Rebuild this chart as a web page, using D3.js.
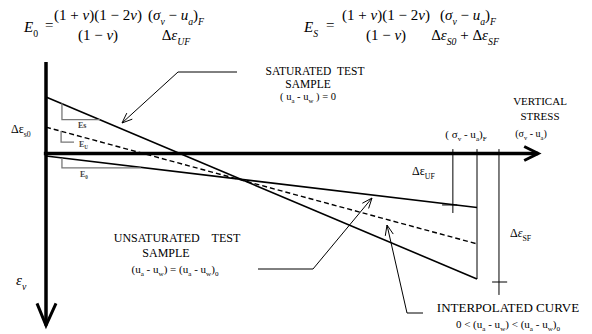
<!DOCTYPE html>
<html>
<head>
<meta charset="utf-8">
<script src="https://cdn.jsdelivr.net/npm/d3@7"></script>
<style>
  body { margin: 0; background: #fff; }
  svg text { font-family: "Liberation Serif", "Times New Roman", Times, serif; white-space: pre; }
</style>
</head>
<body>
<div id="chart"></div>
<script>
// stress normalised so that (sigma_v - u_a)_F = 1, strain normalised to the saturated end strain
var stressEnds = [0, 1];
var saturatedStrain = [-0.45, 1.0];
var interpolatedStrain = [-0.21, 0.72];
var unsaturatedStrain = [0.02, 0.43];

var stressAxisExtent = [-0.005, 1.142];
var strainAxisExtent = [-0.73, 1.37];

// vertical reference lines near the end of loading
var markStress = [0.944, 1.0, 1.051];
var markEnd = [0.474, 1.0, 1.127];
var markTop = -0.035;

// slope triangles [x0, yTop, yBottom, x1]
var slopeTriangles = [
    {name: "Es", pts: [0.037, -0.40, -0.27, 0.125]},
    {name: "Eu", pts: [0.035, -0.18, -0.09, 0.065]},
    {name: "E0", pts: [0.037, 0.035, 0.115, 0.22]}
];

var W = 592, H = 334;

var svg = d3.select("#chart").append("svg")
    .attr("width", W)
    .attr("height", H);

var x = d3.scaleLinear().domain([0, 1]).range([46, 477]);
var y = d3.scaleLinear().domain([0, 1]).range([153.5, 279]);

var line = d3.line()
    .x(function(d) { return x(d[0]); })
    .y(function(d) { return y(d[1]); });

function pairs(strain) {
    return stressEnds.map(function(s, i) { return [s, strain[i]]; });
}

// ---------- the three curves ----------
svg.append("path").attr("d", line(pairs(saturatedStrain)))
    .attr("fill", "none").attr("stroke", "#000").attr("stroke-width", 1.6);
svg.append("path").attr("d", line(pairs(interpolatedStrain)))
    .attr("fill", "none").attr("stroke", "#000").attr("stroke-width", 1.4)
    .attr("stroke-dasharray", "5,3");
svg.append("path").attr("d", line(pairs(unsaturatedStrain)))
    .attr("fill", "none").attr("stroke", "#000").attr("stroke-width", 1.6);

// ---------- vertical marks ----------
svg.selectAll(".mark").data(markStress).enter().append("line")
    .attr("class", "mark")
    .attr("x1", function(d) { return x(d); })
    .attr("x2", function(d) { return x(d); })
    .attr("y1", y(markTop))
    .attr("y2", function(d, i) { return y(markEnd[i]); })
    .attr("stroke", "#000").attr("stroke-width", 1);

// little horizontal ticks
var ticks = [[0.919, 0.954, 0.41], [1.035, 1.07, 1.024]];
svg.selectAll(".tick").data(ticks).enter().append("line")
    .attr("x1", function(d) { return x(d[0]); })
    .attr("x2", function(d) { return x(d[1]); })
    .attr("y1", function(d) { return y(d[2]); })
    .attr("y2", function(d) { return y(d[2]); })
    .attr("stroke", "#000").attr("stroke-width", 1);

// ---------- slope triangles ----------
slopeTriangles.forEach(function(t) {
    var p = t.pts;
    svg.append("path")
        .attr("d", line([[p[0], p[1]], [p[0], p[2]], [p[3], p[2]]]))
        .attr("fill", "none").attr("stroke", "#777").attr("stroke-width", 1.3);
});

// ---------- axes ----------
svg.append("line")
    .attr("x1", x(stressAxisExtent[0])).attr("x2", x(stressAxisExtent[1]))
    .attr("y1", y(0)).attr("y2", y(0))
    .attr("stroke", "#000").attr("stroke-width", 3.5);
svg.append("line")
    .attr("x1", x(0)).attr("x2", x(0))
    .attr("y1", y(strainAxisExtent[0])).attr("y2", y(strainAxisExtent[1]))
    .attr("stroke", "#000").attr("stroke-width", 3.5);

var hx = x(stressAxisExtent[1]), hy = y(0);
svg.append("path")
    .attr("d", "M" + (hx - 14) + "," + (hy - 7) + "L" + hx + "," + hy + "L" + (hx - 14) + "," + (hy + 7))
    .attr("fill", "none").attr("stroke", "#000").attr("stroke-width", 3);
var vx = x(0), vy = y(strainAxisExtent[1]);
svg.append("path")
    .attr("d", "M" + (vx - 9) + "," + (vy - 22) + "L" + vx + "," + vy + "L" + (vx + 10) + "," + (vy - 22))
    .attr("fill", "none").attr("stroke", "#000").attr("stroke-width", 3);

// ---------- leader arrows ----------
function arrow(pts) {
    svg.append("path").attr("d", d3.line()(pts))
        .attr("fill", "none").attr("stroke", "#000").attr("stroke-width", 1);
    var a = pts[pts.length - 2], b = pts[pts.length - 1];
    var ang = Math.atan2(a[1] - b[1], a[0] - b[0]);
    var L = 11, spread = 0.38;
    var p1 = [b[0] + L * Math.cos(ang + spread), b[1] + L * Math.sin(ang + spread)];
    var p2 = [b[0] + L * Math.cos(ang - spread), b[1] + L * Math.sin(ang - spread)];
    svg.append("path").attr("d", d3.line()([p1, b, p2]))
        .attr("fill", "none").attr("stroke", "#000").attr("stroke-width", 1);
}
arrow([[237, 72], [178, 72], [122, 123]]);
arrow([[258, 269], [313, 269], [372, 198]]);
arrow([[423, 313], [407, 313], [387, 225]]);

// ---------- text helper ----------
// segs: [text, kind] kind: n normal, i italic, s subscript, si italic subscript
function rich(xp, yp, segs, size, anchor) {
    var t = svg.append("text").attr("x", xp).attr("y", yp)
        .attr("font-size", size).attr("text-anchor", anchor || "start");
    var shifted = false;
    segs.forEach(function(s) {
        var sp = t.append("tspan").text(s[0]);
        var kind = s[1] || "n";
        var sub = kind.indexOf("s") >= 0;
        if (kind.indexOf("i") >= 0) sp.attr("font-style", "italic");
        if (sub && !shifted) { sp.attr("dy", size * 0.3); shifted = true; }
        else if (!sub && shifted) { sp.attr("dy", -size * 0.3); shifted = false; }
        if (sub) sp.attr("font-size", size * 0.65);
    });
    return t;
}

// ---------- formulas ----------
rich(24, 32, [["E", "i"], ["0", "s"]], 15);
rich(45, 30, [["="]], 15);
rich(98, 20, [["(1 + "], ["ν", "i"], [")(1 − 2"], ["ν", "i"], [")"]], 15, "middle");
rich(98, 40, [["(1 − "], ["ν", "i"], [")"]], 15, "middle");
rich(176, 20, [["("], ["σ", "i"], ["v", "si"], [" − "], ["u", "i"], ["a", "si"], [")"], ["F", "si"]], 15, "middle");
rich(176, 40, [["Δ"], ["ε", "i"], ["UF", "si"]], 15, "middle");

rich(304, 32, [["E", "i"], ["S", "si"]], 15);
rich(326, 30, [["="]], 15);
rich(386, 20, [["(1 + "], ["ν", "i"], [")(1 − 2"], ["ν", "i"], [")"]], 15, "middle");
rich(386, 40, [["(1 − "], ["ν", "i"], [")"]], 15, "middle");
rich(468, 20, [["("], ["σ", "i"], ["v", "si"], [" − "], ["u", "i"], ["a", "si"], [")"], ["F", "si"]], 15, "middle");
rich(465, 40, [["Δ"], ["ε", "i"], ["S0", "si"], [" + Δ"], ["ε", "i"], ["SF", "si"]], 15, "middle");

// ---------- labels ----------
rich(315, 75, [["SATURATED  TEST"]], 11.5, "middle");
rich(308, 88, [["SAMPLE"]], 11.5, "middle");
rich(308, 100, [["( u"], ["a", "s"], [" - u"], ["w", "s"], [" ) = 0"]], 10.5, "middle");

rich(177, 242, [["UNSATURATED    TEST"]], 12, "middle");
rich(166, 257, [["SAMPLE"]], 12, "middle");
rich(175, 273, [["(u"], ["a", "s"], [" - u"], ["w", "s"], [") = (u"], ["a", "s"], [" - u"], ["w", "s"], [")"], ["0", "s"]], 11, "middle");

rich(540, 105, [["VERTICAL"]], 11, "middle");
rich(540, 120, [["STRESS"]], 11, "middle");
rich(531, 137, [["(σ"], ["v", "s"], [" - u"], ["a", "s"], [")"]], 10, "middle");
rich(466, 138, [["( σ"], ["v", "s"], [" - u"], ["a", "s"], [")"], ["F", "s"]], 11, "middle");

rich(412, 175, [["Δε"], ["UF", "s"]], 12);
rich(510, 237, [["Δ"], ["ε", "i"], ["SF", "s"]], 12);
rich(11, 133, [["Δε"], ["s0", "s"]], 12);
rich(16, 285, [["ε", "i"], ["v", "si"]], 15);

rich(508, 312, [["INTERPOLATED CURVE"]], 13, "middle");
rich(508, 328, [["0 < (u"], ["a", "s"], [" - u"], ["w", "s"], [") < (u"], ["a", "s"], [" - u"], ["w", "s"], [")"], ["0", "s"]], 11, "middle");

rich(78, 128, [["Es"]], 8).attr("font-weight", "bold").attr("fill", "#444");
rich(79, 147, [["E"], ["U", "s"]], 8).attr("font-weight", "bold").attr("fill", "#444");
rich(80, 177, [["E"], ["0", "s"]], 8).attr("font-weight", "bold").attr("fill", "#444");
</script>
</body>
</html>
